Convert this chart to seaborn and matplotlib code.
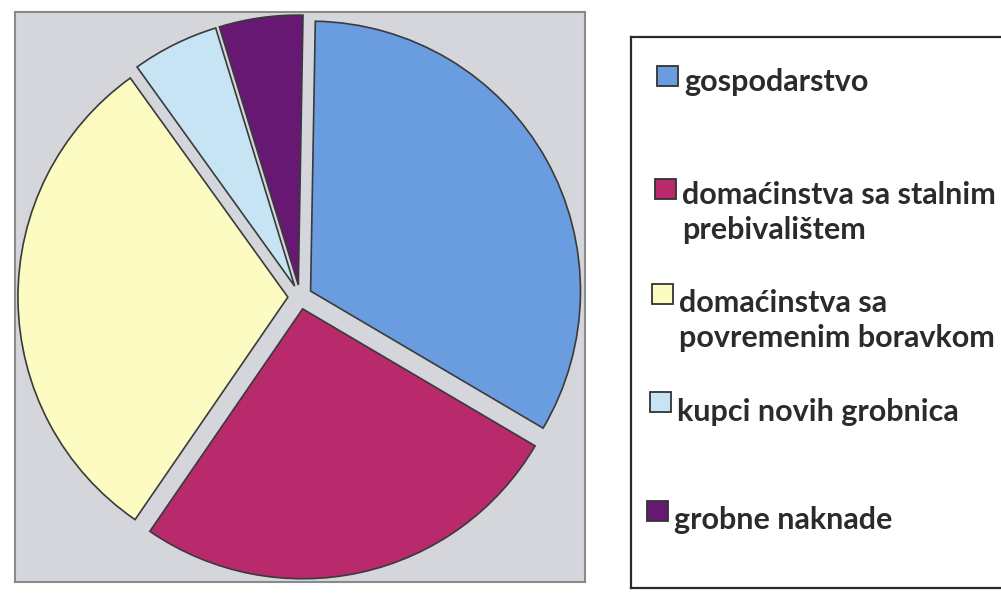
import matplotlib
matplotlib.use("Agg")
import matplotlib.pyplot as plt
from matplotlib.patches import Rectangle
import seaborn as sns

# udjeli (procjena s grafikona)
kategorije = ["gospodarstvo",
              "domaćinstva sa stalnim\nprebivalištem",
              "domaćinstva sa\npovremenim boravkom",
              "kupci novih grobnica",
              "grobne naknade"]
udjeli = [33.2, 26.1, 30.5, 5.2, 5.0]
boje = ["#6a9de0", "#b82a6c", "#fcfcc2", "#c6e4f4", "#661872"]

sns.set_style("white")
plt.rcParams["font.family"] = ["Lato", "DejaVu Sans"]
paleta = sns.color_palette(boje)

fig = plt.figure(figsize=(10.01, 5.94), dpi=100)

# pita
ax = fig.add_axes([15/1001, 12/594, 570/1001, 570/594])
ax.pie(udjeli, colors=paleta, startangle=89, counterclock=False,
       explode=[0.045]*len(udjeli),
       wedgeprops=dict(edgecolor="#3a3a3a", linewidth=1.2))
ax.set_xlim(-1.056, 1.056)
ax.set_ylim(-1.056, 1.056)
ax.set_frame_on(True)
ax.set_facecolor("#d5d5dc")
for s in ax.spines.values():
    s.set_visible(True)
    s.set_edgecolor("#8a8a8a")
    s.set_linewidth(1.5)
ax.set_xticks([])
ax.set_yticks([])

# legenda
lg = fig.add_axes([631/1001, 6/594, 380/1001, 551/594])
lg.set_xlim(631, 1011)
lg.set_ylim(588, 37)
lg.set_xticks([])
lg.set_yticks([])
for s in lg.spines.values():
    s.set_edgecolor("#2a2a2a")
    s.set_linewidth(1.6)

y_stavki = [80, 207, 315, 409, 517]
y_kvadrat = [76, 189, 294, 402, 511]
x_kvadrat = [657, 655, 652, 650, 647]
for y, yk, xk, tekst, c in zip(y_stavki, y_kvadrat, x_kvadrat, kategorije, paleta):
    lg.add_patch(Rectangle((xk, yk - 10), 21, 20, facecolor=c,
                           edgecolor="#333333", linewidth=1.3))
    lg.text(xk + 27, y, tekst, fontsize=22, fontweight="bold", color="#2b2b2b",
            va="center_baseline", ha="left", linespacing=1.3)

fig.savefig("out.png", dpi=100)
